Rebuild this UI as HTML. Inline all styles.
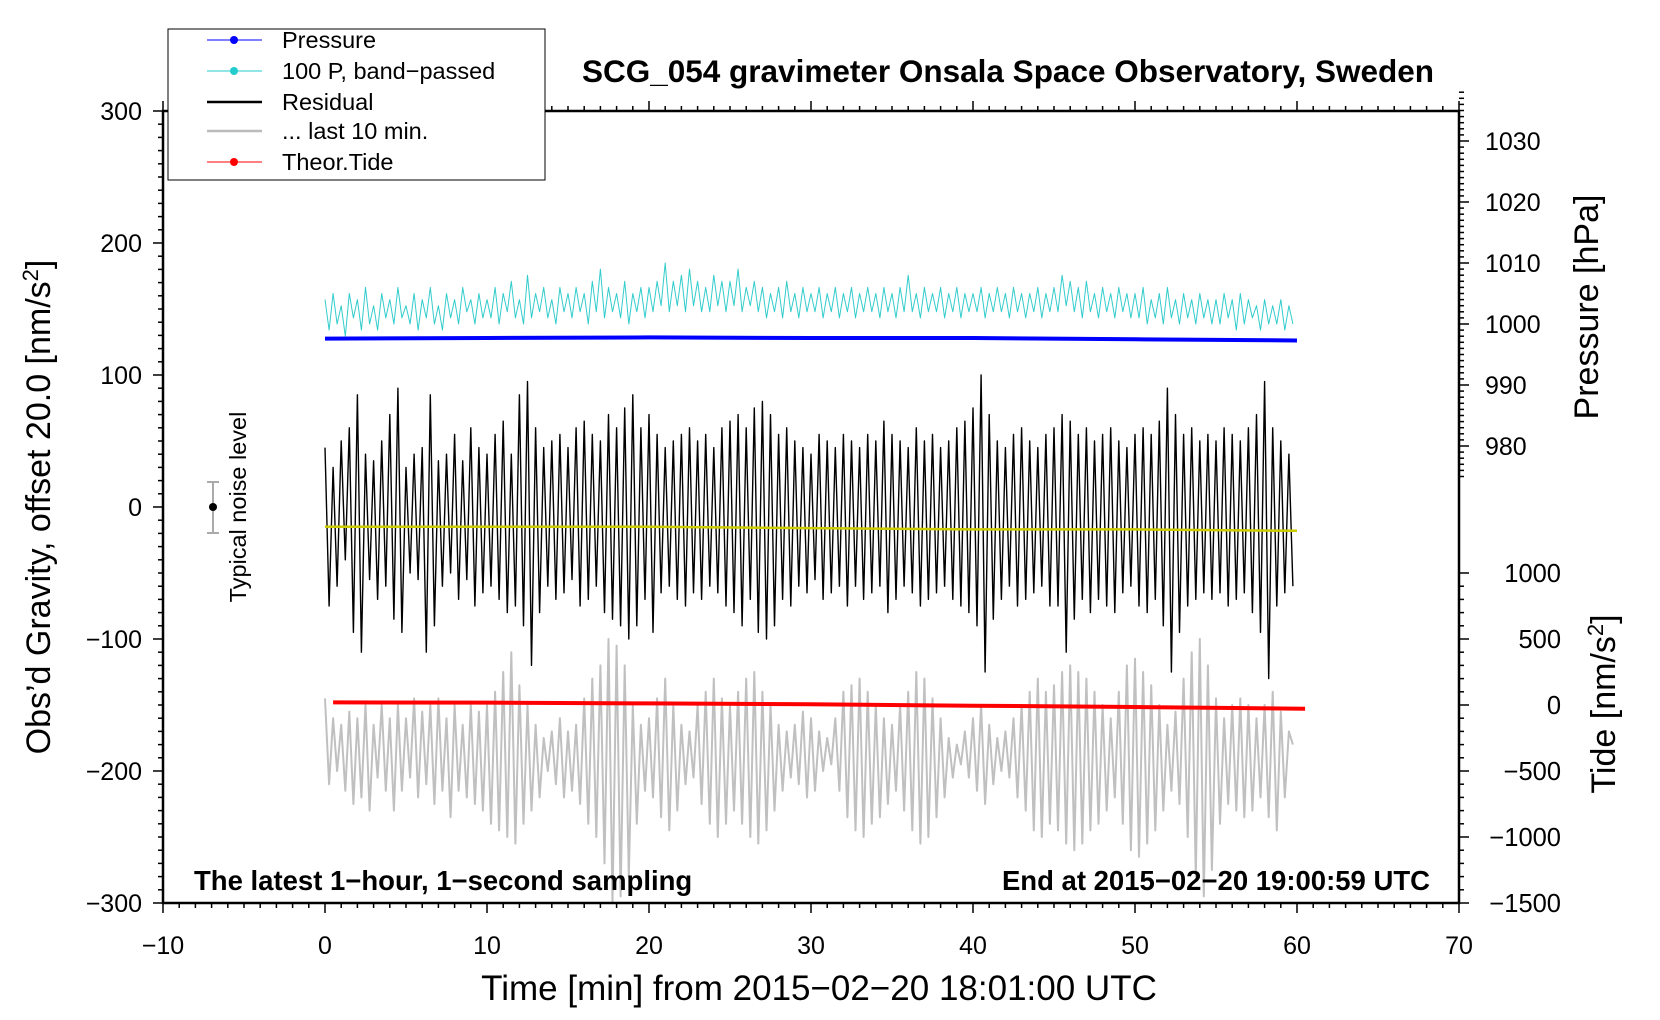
<!DOCTYPE html>
<html><head><meta charset="utf-8"><style>
html,body{margin:0;padding:0;background:#fff;}
svg{display:block;font-family:"Liberation Sans",sans-serif;}
</style></head><body>
<svg id="chart" width="1660" height="1020" viewBox="0 0 1660 1020">
<rect x="0" y="0" width="1660" height="1020" fill="#fff"/>
<g id="plot"></g>
<rect x="163" y="111" width="1296" height="792" fill="none" stroke="#000" stroke-width="2.5"/>
<g id="axes"></g>
<text x="1008" y="82" font-size="31.5" font-weight="bold" text-anchor="middle">SCG_054 gravimeter Onsala Space Observatory, Sweden</text>
<text x="194" y="890" font-size="27.5" font-weight="bold">The latest 1−hour, 1−second sampling</text>
<text x="1430" y="890" font-size="27.5" font-weight="bold" text-anchor="end">End at 2015−02−20 19:00:59 UTC</text>
<text x="819" y="1000" font-size="35" text-anchor="middle">Time [min] from 2015−02−20 18:01:00 UTC</text>
<text transform="translate(50,507) rotate(-90)" font-size="34" text-anchor="middle">Obs’d Gravity, offset 20.0 [nm/s<tspan font-size="22" dy="-12">2</tspan><tspan dy="12">]</tspan></text>
<text transform="translate(1598,307) rotate(-90)" font-size="34" text-anchor="middle">Pressure [hPa]</text>
<text transform="translate(1615,704) rotate(-90)" font-size="34" text-anchor="middle">Tide [nm/s<tspan font-size="22" dy="-12">2</tspan><tspan dy="12">]</tspan></text>
<g>
<line x1="213" y1="482" x2="213" y2="533" stroke="#aaa" stroke-width="2"/>
<line x1="207" y1="482" x2="219" y2="482" stroke="#aaa" stroke-width="2"/>
<line x1="207" y1="533" x2="219" y2="533" stroke="#aaa" stroke-width="2"/>
<circle cx="213" cy="507" r="4" fill="#000"/>
<text transform="translate(246,507) rotate(-90)" font-size="23.5" text-anchor="middle">Typical noise level</text>
</g>
<g>
<rect x="168" y="29" width="377" height="151" fill="#fff" stroke="#000" stroke-width="1"/>
<g><line x1="207" y1="40" x2="262" y2="40" stroke="#00f" stroke-width="1"/><circle cx="234" cy="40" r="4" fill="#00f"/><text x="282" y="48" font-size="23.5">Pressure</text></g>
<g><line x1="207" y1="71" x2="262" y2="71" stroke="#2cc" stroke-width="1"/><circle cx="234" cy="71" r="4" fill="#2cc"/><text x="282" y="79" font-size="23.5">100 P, band−passed</text></g>
<g><line x1="207" y1="102" x2="262" y2="102" stroke="#000" stroke-width="2.5"/><text x="282" y="110" font-size="23.5">Residual</text></g>
<g><line x1="207" y1="131" x2="262" y2="131" stroke="#bbb" stroke-width="2.5"/><text x="282" y="139" font-size="23.5">... last 10 min.</text></g>
<g><line x1="207" y1="162" x2="262" y2="162" stroke="#f00" stroke-width="1"/><circle cx="234" cy="162" r="4" fill="#f00"/><text x="282" y="170" font-size="23.5">Theor.Tide</text></g>
</g>
</svg>
<script>
const xTicks=[-10,0,10,20,30,40,50,60,70];
const gTicks=[300,200,100,0,-100,-200,-300];
const pTicks=[1030,1020,1010,1000,990,980];
const tTicks=[1000,500,0,-500,-1000,-1500];
const resStep=0.25;
const residual=[45,-75,30,-60,50,-40,60,-95,85,-110,40,-55,35,-70,50,-60,70,-85,90,-95,
30,-50,40,-55,45,-110,85,-90,35,-60,40,-50,55,-70,35,-55,60,-75,45,-65,
40,-60,55,-70,65,-80,40,-75,85,-90,95,-120,60,-80,45,-60,50,-70,55,-65,
45,-55,60,-75,65,-70,55,-60,50,-80,70,-85,60,-90,75,-100,85,-90,60,-70,
70,-95,55,-65,45,-60,50,-70,55,-75,60,-65,50,-70,55,-60,45,-65,60,-75,
65,-80,70,-90,60,-70,75,-95,80,-100,70,-90,55,-70,60,-75,50,-60,45,-65,
40,-55,55,-70,50,-65,45,-60,55,-75,50,-60,45,-70,55,-65,50,-60,65,-80,
55,-70,50,-60,45,-65,60,-75,50,-70,55,-65,45,-60,50,-70,60,-75,65,-80,
75,-90,100,-125,70,-85,50,-70,45,-60,55,-75,60,-70,50,-65,45,-60,55,-75,
60,-75,70,-110,65,-85,55,-70,60,-80,50,-70,55,-75,60,-80,50,-65,45,-60,
55,-75,60,-80,55,-70,65,-90,90,-125,70,-95,55,-75,60,-70,50,-65,55,-70,
50,-65,60,-75,55,-70,50,-65,60,-80,70,-95,95,-130,60,-75,50,-65,40,-60];
const last10=[-145,-210,-160,-200,-165,-215,-155,-225,-160,-220,-150,-230,-165,-205,-150,-215,-160,-230,-150,-215,
-160,-205,-145,-220,-155,-210,-150,-225,-145,-215,-160,-235,-150,-215,-165,-220,-150,-225,-155,-230,
-150,-240,-140,-245,-125,-250,-110,-255,-135,-240,-150,-230,-165,-220,-175,-200,-170,-210,-160,-220,
-170,-215,-165,-225,-145,-240,-130,-250,-120,-270,-100,-300,-105,-295,-120,-280,-150,-240,-165,-215,
-160,-220,-145,-235,-130,-245,-150,-230,-165,-210,-170,-205,-150,-225,-140,-240,-130,-250,-145,-240,
-150,-230,-140,-240,-130,-250,-125,-255,-140,-245,-150,-230,-165,-215,-170,-205,-165,-210,-155,-220,
-160,-215,-170,-200,-175,-195,-160,-215,-140,-235,-135,-245,-130,-250,-140,-240,-150,-235,-160,-225,
-165,-215,-150,-230,-140,-245,-125,-255,-130,-250,-145,-235,-160,-220,-175,-205,-180,-195,-170,-205,
-160,-215,-150,-225,-165,-210,-175,-200,-170,-205,-160,-220,-150,-230,-140,-245,-130,-250,-140,-240,
-135,-245,-125,-255,-120,-260,-125,-255,-130,-245,-140,-240,-150,-230,-160,-220,-140,-240,-120,-260,
-115,-265,-125,-255,-135,-245,-150,-230,-165,-215,-155,-225,-130,-250,-110,-280,-100,-295,-120,-275,
-145,-240,-160,-225,-150,-230,-145,-235,-150,-230,-160,-220,-150,-235,-140,-245,-155,-220,-170,-180];
const bandPassed=[1004,999,1005,1000,1003,998,1005,1001,1004,999,1006,1000,1003,999,1005,1001,1004,1000,1006,1001,
1003,1000,1005,999,1004,1001,1006,1000,1003,999,1005,1001,1004,1000,1006,1002,1004,1000,1005,1001,
1004,1001,1006,1000,1005,1002,1007,1001,1004,1000,1008,1001,1005,1002,1006,1001,1004,1000,1006,1002,
1005,1001,1006,1002,1005,1000,1007,1002,1009,1001,1006,1002,1005,1001,1007,1000,1005,1002,1006,1001,
1006,1002,1007,1003,1010,1002,1007,1003,1008,1002,1009,1003,1007,1002,1006,1002,1008,1003,1007,1002,
1007,1003,1009,1002,1006,1003,1007,1002,1006,1001,1005,1002,1006,1001,1007,1002,1005,1001,1006,1002,
1005,1002,1006,1001,1005,1002,1006,1001,1005,1002,1006,1001,1005,1002,1006,1002,1005,1001,1006,1002,
1005,1001,1006,1002,1008,1002,1005,1001,1006,1002,1005,1002,1006,1001,1005,1002,1006,1001,1005,1002,
1005,1002,1006,1001,1005,1002,1006,1002,1005,1001,1006,1002,1005,1001,1005,1002,1006,1001,1005,1002,
1006,1002,1008,1003,1007,1002,1006,1001,1007,1002,1005,1001,1006,1002,1005,1001,1006,1002,1005,1001,
1005,1001,1006,1000,1004,1001,1005,1000,1006,1001,1004,1000,1005,1001,1004,1000,1005,1001,1004,1000,
1004,1000,1005,1001,1004,999,1005,1000,1004,1001,1003,999,1004,1000,1003,1000,1004,999,1003,1000];
const pressTimes=[0,10,20,30,40,50,60];
const pressure=[997.6,997.7,997.8,997.7,997.7,997.5,997.3];
const meanTimes=[0,10,20,30,40,50,60];
const meanResidual=[-15,-15,-15,-16,-17,-17,-18];
const tideTimes=[0.5,10,20,30,40,50,60.5];
const tide=[20,18,12,5,-5,-15,-28];

const X=t=>325+t*16.2;
const YG=g=>507-g*1.32;
const YP=p=>324-(p-1000)*6.1;
const YT=v=>705-v*0.132;
const NS='http://www.w3.org/2000/svg';
const plot=document.getElementById('plot');
const axes=document.getElementById('axes');
function mk(tag,attrs,parent){const e=document.createElementNS(NS,tag);for(const k in attrs)e.setAttribute(k,attrs[k]);parent.appendChild(e);return e;}
function line(ts,vs,Y,color,w,name){
  const d=ts.map((t,i)=>(i?'L':'M')+X(t).toFixed(1)+' '+Y(vs[i]).toFixed(1)).join('');
  const p=mk('path',{d:d,fill:'none',stroke:color,'stroke-width':w,'stroke-linejoin':'round'},plot);
  
  
}
const ts=residual.map((v,i)=>i*resStep);
line(last10.map((v,i)=>i*resStep),last10,YG,'#c0c0c0',2,'last-10-min-line');
line(ts,residual,YG,'#000',1.4,'residual-line');
line(bandPassed.map((v,i)=>i*resStep),bandPassed,YP,'#33cccc',1,'bandpassed-pressure-line');
line(pressTimes,pressure,YP,'#00f',4,'pressure-line');
line(meanTimes,meanResidual,YG,'#cccc00',2.5,'mean-residual-line');
line(tideTimes,tide,YT,'#f00',4,'tide-line');

for(let t=-10;t<=70;t++){
  const maj=t%10===0;
  mk('line',{x1:X(t),x2:X(t),y1:903,y2:903+(maj?10:5),stroke:'#000','stroke-width':1.5},axes);
  mk('line',{x1:X(t),x2:X(t),y1:111,y2:111-(maj?10:5),stroke:'#000','stroke-width':1.5},axes);
}
xTicks.forEach(t=>{const e=mk('text',{x:X(t),y:954,'font-size':25,'text-anchor':'middle'},axes);e.textContent=String(t).replace('-','−');

});
for(let g=-300;g<=300;g+=10){
  const maj=g%100===0;
  mk('line',{x1:163,x2:163-(maj?10:5),y1:YG(g),y2:YG(g),stroke:'#000','stroke-width':1.5},axes);
}
gTicks.forEach(g=>{const e=mk('text',{x:142,y:YG(g)+9,'font-size':25,'text-anchor':'end'},axes);e.textContent=String(g).replace('-','−');

});
for(let p=975;p<=1038;p++){
  const maj=p%10===0;
  mk('line',{x1:1459,x2:1459+(maj?10:5),y1:YP(p),y2:YP(p),stroke:'#000','stroke-width':1.5},axes);
}
pTicks.forEach(p=>{const e=mk('text',{x:1485,y:YP(p)+9,'font-size':25},axes);e.textContent=p;

});
for(let v=-1500;v<=1000;v+=100){
  const maj=v%500===0;
  mk('line',{x1:1459,x2:1459+(maj?10:5),y1:YT(v),y2:YT(v),stroke:'#000','stroke-width':1.5},axes);
}
tTicks.forEach(v=>{const e=mk('text',{x:1561,y:YT(v)+9,'font-size':25.5,'text-anchor':'end'},axes);e.textContent=String(v).replace('-','−');

});
</script>
</body></html>
